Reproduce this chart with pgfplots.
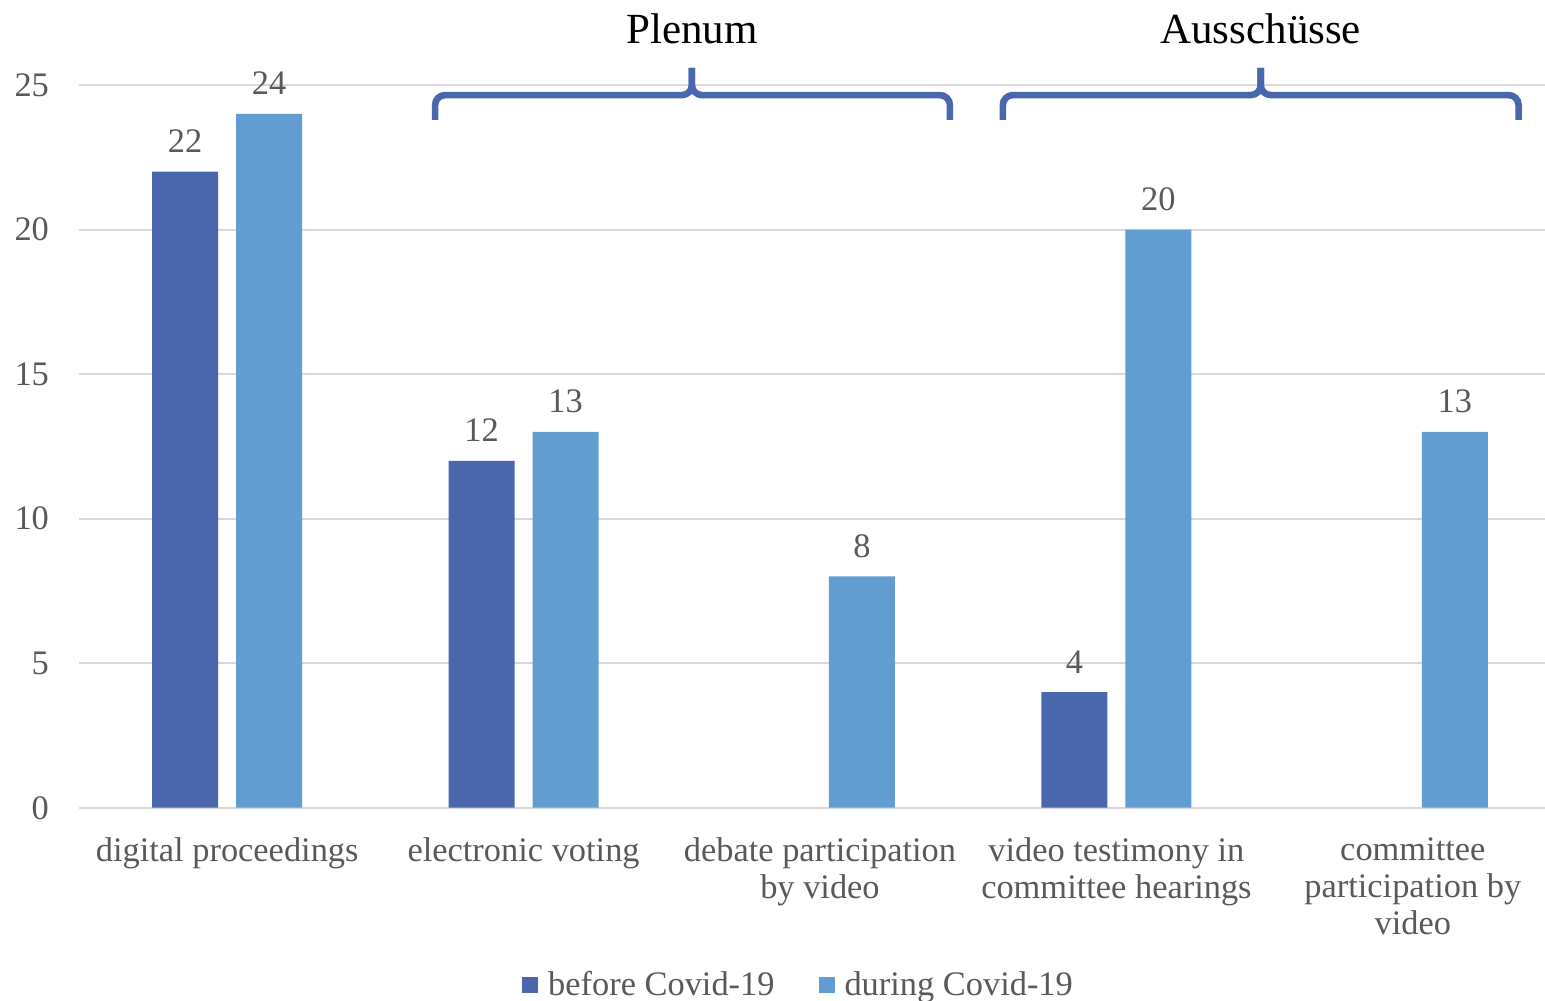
\documentclass[border=0pt]{standalone}
\usepackage{pgfplots}
\pgfplotsset{compat=1.18}
\usepackage{fontspec}
\setmainfont{Liberation Serif}
\definecolor{before}{HTML}{4A66AC}
\definecolor{during}{HTML}{629DD1}
\definecolor{txt}{HTML}{595959}
\definecolor{grd}{HTML}{D9D9D9}
\newcommand{\lbl}{\fontsize{17.2}{18.5}\selectfont}

\begin{document}
\begin{tikzpicture}
\begin{axis}[name=ax,
  scale only axis, width=741.25pt, height=361.5pt,
  xmin=-0.5, xmax=4.5, ymin=0, ymax=25,
  ybar=9pt, bar width=33pt,
  xtick={0,...,4},
  xticklabels={digital proceedings, electronic voting, debate participation\\by video, video testimony in\\committee hearings, committee\\participation by\\video},
  ytick={0,5,...,25},
  ymajorgrids, grid style={grd, line width=1pt},
  axis line style={draw=none}, major tick length=0pt,
  tick label style={font=\lbl, text=txt},
  /pgf/number format/assume math mode=true,
  yticklabel style={xshift=-11.5pt},
  xticklabel style={align=center, yshift=-11.5pt},
  nodes near coords,
  every node near coord/.append style={font=\lbl, text=txt, yshift=6pt},
  clip=false,
  legend style={at={(rel axis cs:0.4862,-0.2448)}, anchor=center, draw=none,
    font=\lbl, text=txt, legend columns=2,
    /tikz/every odd column/.append style={column sep=3pt},
    /tikz/every even column/.append style={column sep=20pt}},
  legend image code/.code={\fill[#1] (0pt,-4pt) rectangle (8pt,4pt);},
]
\addplot[fill=before, draw=none] coordinates {(0,22) (1,12) (3,4)};
\addplot[fill=during, draw=none] coordinates {(0,24) (1,13) (2,8) (3,20) (4,13)};
\legend{before Covid-19, during Covid-19}

% braces
\tikzset{brace/.style={before, line width=3.3pt, rounded corners=5pt}}
\draw[brace] (axis cs:0.7015,23.79) -- (axis cs:0.7015,24.65) -- (axis cs:1.568,24.65) -- (axis cs:1.568,25.59);
\draw[brace] (axis cs:2.4384,23.79) -- (axis cs:2.4384,24.65) -- (axis cs:1.568,24.65) -- (axis cs:1.568,25.59);
\draw[brace] (axis cs:2.617,23.79) -- (axis cs:2.617,24.65) -- (axis cs:3.487,24.65) -- (axis cs:3.487,25.59);
\draw[brace] (axis cs:4.357,23.79) -- (axis cs:4.357,24.65) -- (axis cs:3.487,24.65) -- (axis cs:3.487,25.59);
\node[font=\fontsize{21.5}{24}\selectfont] at (axis cs:1.568,26.95) {Plenum};
\node[font=\fontsize{21.5}{24}\selectfont] at (axis cs:3.487,26.95) {Ausschüsse};
\end{axis}
\pgfresetboundingbox
\path[use as bounding box] ([xshift=-39.5pt,yshift=-96.5pt]ax.south west) rectangle ([xshift=-8pt,yshift=42.5pt]ax.north east);
\end{tikzpicture}
\end{document}
